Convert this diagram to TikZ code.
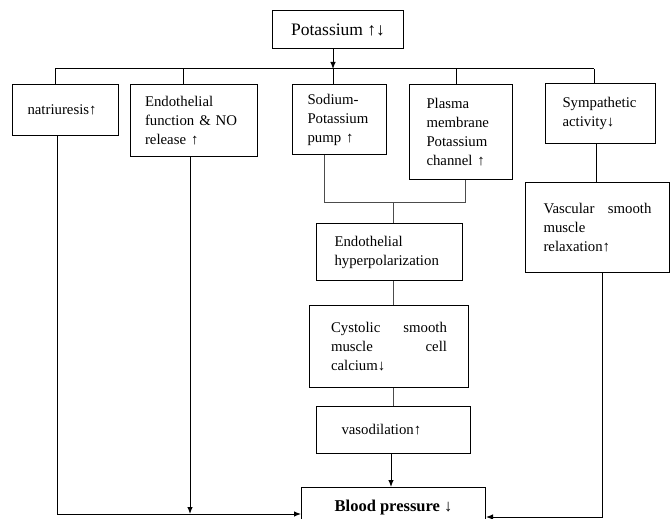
\documentclass[tikz,border=0pt]{standalone}
\usepackage{fontspec}
\setmainfont{Liberation Serif}
\usetikzlibrary{arrows.meta}
\begin{document}
\begin{tikzpicture}[x=1pt,y=-1pt,
  box/.style={draw, line width=1pt, anchor=north west, inner sep=0pt, align=left,
    font=\fontsize{14.8}{19}\selectfont},
  conn/.style={line width=1pt},
  thinconn/.style={line width=0.6pt, draw=black!70},
  arr/.style={line width=1pt, -{Latex[length=7pt,width=5.5pt]}}]
\useasboundingbox (0,0) rectangle (670,519);
\clip (0,0) rectangle (670,519);
% boxes
\node[box, align=center, minimum width=131, minimum height=38, font=\fontsize{17.5}{19}\selectfont] (pot) at (272,10) {Potassium ↑↓};
\node[box, minimum width=106, minimum height=51, text width=76] (natr) at (12,84) {natriuresis↑};
\node[box, minimum width=127, minimum height=72, text width=98] (endo) at (130,84) {Endothelial\\function \& NO\\release ↑};
\node[box, minimum width=94, minimum height=70, text width=64] (sod) at (292,84) {Sodium-\\Potassium\\pump ↑};
\node[box, minimum width=103, minimum height=95, text width=69] (plas) at (409,84) {Plasma\\membrane\\Potassium\\channel ↑};
\node[box, minimum width=110, minimum height=60, text width=76] (sym) at (545,83) {Sympathetic\\activity↓};
\node[box, minimum width=144, minimum height=90, text width=108] (vasc) at (525,182) {Vascular\hfill smooth\\muscle\\relaxation↑\\[-6pt]};
\node[box, minimum width=146, minimum height=57, text width=110] (hyp) at (316,223) {Endothelial\\hyperpolarization};
\node[box, minimum width=159, minimum height=82, text width=116] (cyst) at (309,305) {Cystolic\hfill smooth\\muscle\hfill cell\\calcium↓\\[-6pt]};
\node[box, minimum width=154, minimum height=47, text width=104] (vas) at (316,406) {vasodilation↑};
\node[box, align=center, minimum width=184, minimum height=41, font=\fontsize{16.5}{19}\selectfont\bfseries] (bp) at (301,487) {Blood pressure ↓};
% bus from potassium
\coordinate (busL) at (55,69);
\coordinate (busR) at (594,69);
\coordinate (busM) at (333,69);
\coordinate (dE) at (183,69);
\coordinate (dP) at (456,69);
\draw[arr] (busM |- pot.south) -- (busM);
\draw[conn] (busL) -- (busR);
\draw[conn] (busL) -- (busL |- natr.north);
\draw[conn] (dE) -- (dE |- endo.north);
\draw[conn] (busM) -- (busM |- sod.north);
\draw[conn] (dP) -- (dP |- plas.north);
\draw[conn] (busR) -- (busR |- sym.north);
% middle chain
\coordinate (jL) at (324,202);
\coordinate (jR) at (465,202);
\coordinate (jM) at (393,202);
\draw[thinconn] (jL |- sod.south) -- (jL) -- (jR) -- (jR |- plas.south);
\draw[thinconn] (jM) -- (jM |- hyp.north);
\draw[thinconn] (jM |- hyp.south) -- (jM |- cyst.north);
\draw[thinconn] (jM |- cyst.south) -- (jM |- vas.north);
\coordinate (a5) at (391,470);
\draw[arr] (a5 |- vas.south) -- (a5 |- bp.north);
% sympathetic to vascular
\coordinate (sv) at (596,160);
\draw[conn] (sv |- sym.south) -- (sv |- vasc.north);
% left returns
\coordinate (cL) at (57,514);
\coordinate (cE) at (190,514);
\draw[arr] (cL |- natr.south) -- (cL) -- (cL -| bp.west);
\draw[arr] (cE |- endo.south) -- (cE);
% right return
\coordinate (cR) at (602,517);
\draw[arr] (cR |- vasc.south) -- (cR) -- (cR -| bp.east);
\end{tikzpicture}
\end{document}
